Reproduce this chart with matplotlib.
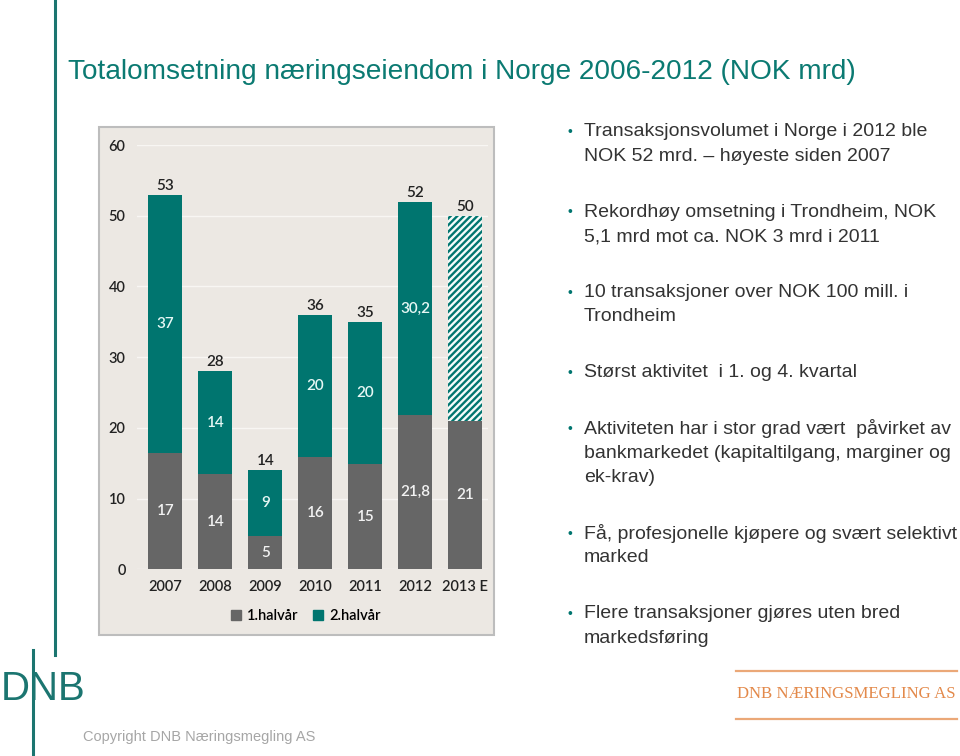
import matplotlib
matplotlib.use("Agg")
import matplotlib.pyplot as plt
from matplotlib.lines import Line2D
from matplotlib.patches import Rectangle, Patch
import numpy as np

# chart data (NOK mrd)
years = ['2007', '2008', '2009', '2010', '2011', '2012', '2013 E']
first_half = [16.5, 13.5, 4.7, 15.9, 14.9, 21.8, 21.0]
second_half = [36.5, 14.5, 9.3, 20.1, 20.1, 30.2, 29.0]
first_labels = ['17', '14', '5', '16', '15', '21,8', '21']
second_labels = ['37', '14', '9', '20', '20', '30,2', '']
total_labels = ['53', '28', '14', '36', '35', '52', '50']
estimate = [False, False, False, False, False, False, True]
yticks = [0, 10, 20, 30, 40, 50, 60]

title = 'Totalomsetning næringseiendom i Norge 2006-2012 (NOK mrd)'
bullets = [
    ['Transaksjonsvolumet i Norge i 2012 ble', 'NOK 52 mrd. \u2013 høyeste siden 2007'],
    ['Rekordhøy omsetning i Trondheim, NOK', '5,1 mrd mot ca. NOK 3 mrd i 2011'],
    ['10 transaksjoner over NOK 100 mill. i', 'Trondheim'],
    ['Størst aktivitet  i 1. og 4. kvartal'],
    ['Aktiviteten har i stor grad vært  påvirket av', 'bankmarkedet (kapitaltilgang, marginer og', 'ek-krav)'],
    ['Få, profesjonelle kjøpere og svært selektivt', 'marked'],
    ['Flere transaksjoner gjøres uten bred', 'markedsføring'],
]

TEAL = '#00756F'
GREY = '#666666'
W, H = 960, 756


def fx(x):
    return x / W


def fy(y):
    return 1 - y / H


plt.rcParams['hatch.linewidth'] = 1.7

fig = plt.figure(figsize=(9.6, 7.56), dpi=100)
fig.patch.set_facecolor('white')

# slide decorations
fig.add_artist(Line2D([fx(55), fx(55)], [fy(0), fy(655)], color='#1B7570', lw=2.2,
                      transform=fig.transFigure))
fig.text(fx(68), fy(72), title, color='#0B7A72', fontsize=20.2, va='center', ha='left',
         family=['Liberation Sans', 'DejaVu Sans'])

# chart panel
panel = Rectangle((fx(99), fy(635)), (494 - 99) / W, (635 - 127) / H,
                  transform=fig.transFigure, facecolor='#ECE8E3',
                  edgecolor='#BDBDBD', lw=1.5, zorder=-1)
fig.add_artist(panel)

ax = fig.add_axes([fx(136.7), fy(569.3), 351.3 / W, 424.2 / H])
ax.set_zorder(2)
ax.set_facecolor('none')
x = np.arange(len(years))
width = 0.68

ax.bar(x, first_half, width, color=GREY, zorder=3)
for i in range(len(years)):
    if estimate[i]:
        ax.bar(x[i], second_half[i], width, bottom=first_half[i], facecolor='#F4FBFA',
               edgecolor=TEAL, hatch='/////', lw=0, zorder=3)
    else:
        ax.bar(x[i], second_half[i], width, bottom=first_half[i], color=TEAL, zorder=3)

lab_font = dict(family=['Lato', 'DejaVu Sans'], fontsize=11, weight='semibold')
for i in range(len(years)):
    ax.text(x[i], first_half[i] / 2, first_labels[i], ha='center', va='center',
            color='#F2F2F2', zorder=4, **lab_font)
    if second_labels[i]:
        ax.text(x[i], first_half[i] + second_half[i] / 2, second_labels[i], ha='center',
                va='center', color='#E6F7F4', zorder=4, **lab_font)
    ax.annotate(total_labels[i], xy=(x[i], first_half[i] + second_half[i]),
                xytext=(0, 1.5), textcoords='offset points', ha='center', va='bottom',
                color='#222222', zorder=4, **lab_font)

ax.set_xlim(-0.57, 6.45)
ax.set_ylim(0, 60)
ax.set_yticks(yticks)
ax.set_xticks(x)
ax.set_xticklabels(years)
for s in ax.spines.values():
    s.set_visible(False)
ax.tick_params(axis='both', length=0, colors='#222222', labelsize=10.5)
ax.tick_params(axis='y', pad=8)
ax.tick_params(axis='x', pad=8)
for lbl in ax.get_xticklabels() + ax.get_yticklabels():
    lbl.set_family(['Lato', 'DejaVu Sans'])
    lbl.set_weight('semibold')
ax.yaxis.grid(True, color='#F8F6F3', lw=1.0, zorder=0)
ax.set_axisbelow(True)

handles = [Patch(color=GREY), Patch(color=TEAL)]
ax.legend(handles, ['1.halvår', '2.halvår'], loc='center', ncol=2, frameon=False,
          bbox_to_anchor=(fx(305.5), fy(616)), bbox_transform=fig.transFigure,
          handlelength=0.7, handleheight=0.7, handletextpad=0.4, columnspacing=1.0,
          prop={'family': ['Lato', 'DejaVu Sans'], 'size': 10.5, 'weight': 'semibold'})

# bullet list
y = 132
for item in bullets:
    fig.text(fx(567), fy(y), '\u2022', color=TEAL, fontsize=10, ha='left', va='center',
             family=['Liberation Sans', 'DejaVu Sans'])
    for line in item:
        fig.text(fx(584), fy(y), line, color='#333333', fontsize=14, ha='left',
                 va='center', family=['Liberation Sans', 'DejaVu Sans'])
        y += 24.3
    y += 56 - 24.3

# logos and footer
fig.text(fx(1), fy(689), 'DNB', color='#1B7570', fontsize=29, ha='left', va='center',
         family=['Liberation Sans', 'DejaVu Sans'])
fig.add_artist(Line2D([fx(33), fx(33)], [fy(650), fy(756)], color='#1B7570', lw=2.2,
                      transform=fig.transFigure))
fig.text(fx(83), fy(737), 'Copyright DNB Næringsmegling AS', color='#A6A6A6',
         fontsize=10.5, ha='left', va='center', family=['Liberation Sans', 'DejaVu Sans'])

for yy in (671, 719):
    fig.add_artist(Line2D([fx(736), fx(957)], [fy(yy), fy(yy)], color='#EBA878', lw=1.6,
                          transform=fig.transFigure))
fig.text(fx(737), fy(694), 'DNB NÆRINGSMEGLING AS', color='#E3894A', fontsize=12.1,
         ha='left', va='center', family=['Liberation Serif', 'DejaVu Serif'])

fig.savefig('out.png', dpi=100)
